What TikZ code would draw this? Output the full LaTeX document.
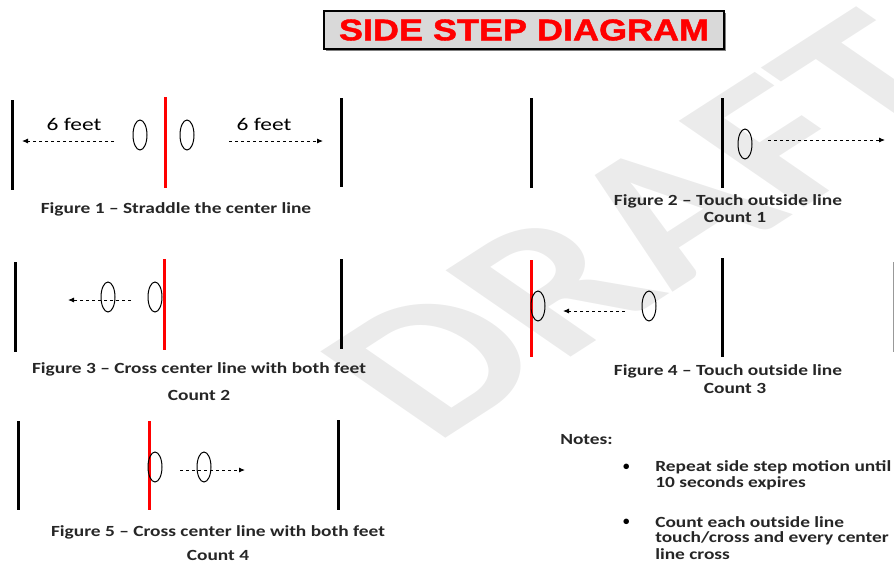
\documentclass[tikz,border=0pt]{standalone}
\usepackage{fontspec}
\setmainfont{Carlito}
\newfontfamily\titlefont{Liberation Sans Bold}[FakeBold=1.3]
\usetikzlibrary{shapes.geometric,shadows,arrows.meta}

\begin{document}
\begin{tikzpicture}[x=1pt,y=-1pt,
outer/.style={line width=3pt},
centre/.style={line width=3pt, red},
foot/.style={draw, ellipse, minimum width=14pt, minimum height=30pt, inner sep=0pt, line width=1pt},
move/.style={dash pattern=on 3pt off 3pt, line width=0.9pt, -{Latex[length=6pt,width=5pt]}},
figcap/.style={font=\fontsize{15.5}{17}\selectfont\bfseries, text=black!85, xscale=1.25},
feet/.style={font=\fontsize{18}{20}\selectfont, xscale=1.3},
note/.style={anchor=west, font=\fontsize{15.5}{17}\selectfont\bfseries, text=black!85, inner sep=0pt, xscale=1.25},
dot/.style={anchor=west, font=\fontsize{13}{14}\selectfont\bfseries, inner sep=0pt}]
\useasboundingbox (0,0) rectangle (894,563);
% watermark
\node[xscale=1.5, rotate=44, anchor=base west, inner sep=0pt, text=black!8,
  font=\fontsize{185}{185}\selectfont\bfseries] (wm) at (434,446) {DRAFT};
% title
\node[draw, line width=1.5pt, fill=gray!30, drop shadow={shadow xshift=1.5pt, shadow yshift=-1.5pt, fill=black},
  minimum width=400pt, minimum height=38pt] (title) at (524,30) {};
\node[text=red, font=\titlefont\fontsize{30}{30}\selectfont, xscale=1.2] (titletext) at (title) {SIDE STEP DIAGRAM};

% figure 1
\draw[outer] (12,100) -- (12,190);
\draw[centre] (165,97) -- (165,188);
\draw[outer] (341,98) -- (341,187);
\node[foot] (f1a) at (140,135) {};
\node[foot] (f1b) at (187,135) {};
\coordinate (f1ls) at (114,141); \coordinate (f1le) at (22,141);
\coordinate (f1rs) at (229,141); \coordinate (f1re) at (323,141);
\draw[move] (f1ls) -- (f1le);
\draw[move] (f1rs) -- (f1re);
\node[feet] (feetl) at (74,124) {6 feet};
\node[feet] (feetr) at (264,124) {6 feet};
\node[figcap] (cap1) at (176,209) {Figure 1 – Straddle the center line};

% figure 2
\draw[outer] (531,98) -- (531,188);
\draw[outer] (722,98) -- (722,188);
\node[foot] (f2a) at (745,144) {};
\coordinate (f2s) at (768,140); \coordinate (f2e) at (885,140);
\draw[move] (f2s) -- (f2e);
\node[figcap] (cap2) at (728,201) {Figure 2 – Touch outside line};
\node[figcap] (cnt1) at (735,217) {Count 1};

% figure 3
\draw[outer] (15,262) -- (15,352);
\draw[centre] (164,259) -- (164,350);
\draw[outer] (341,259) -- (341,349);
\node[foot] (f3a) at (108,297) {};
\node[foot] (f3b) at (155,297) {};
\coordinate (f3s) at (131,300); \coordinate (f3e) at (68,300);
\draw[move] (f3s) -- (f3e);
\node[figcap] (cap3) at (199,369) {Figure 3 – Cross center line with both feet};
\node[figcap] (cnt2) at (199,395) {Count 2};

% figure 4
\draw[centre] (531,260) -- (531,357);
\draw[outer] (722,258) -- (722,357);
\draw[line width=0.8pt, black!40] (893,262) -- (893,352);
\node[foot] (f4a) at (538,306) {};
\node[foot] (f4b) at (649,306) {};
\coordinate (f4s) at (625,311); \coordinate (f4e) at (563,311);
\draw[move] (f4s) -- (f4e);
\node[figcap] (cap4) at (728,371) {Figure 4 – Touch outside line};
\node[figcap] (cnt3) at (735,388) {Count 3};

% figure 5
\draw[outer] (18,421) -- (18,510);
\draw[centre] (149,421) -- (149,510);
\draw[outer] (338,420) -- (338,510);
\node[foot] (f5a) at (155,467) {};
\node[foot] (f5b) at (204,467) {};
\coordinate (f5s) at (180,470); \coordinate (f5e) at (245,470);
\draw[move] (f5s) -- (f5e);
\node[figcap] (cap5) at (218,532) {Figure 5 – Cross center line with both feet};
\node[figcap] (cnt4) at (218,555) {Count 4};

% notes
\node[note] (notes) at (560,440) {Notes:};
\node[dot] (b1) at (623,467) {•};
\node[note] (n1) at (655,467) {Repeat side step motion until};
\node[note] (n1b) at (655,483) {10 seconds expires};
\node[dot] (b2) at (623,522) {•};
\node[note] (n2) at (655,522) {Count each outside line};
\node[note] (n2b) at (655,538) {touch/cross and every center};
\node[note] (n2c) at (655,554) {line cross};
\end{tikzpicture}
\end{document}
